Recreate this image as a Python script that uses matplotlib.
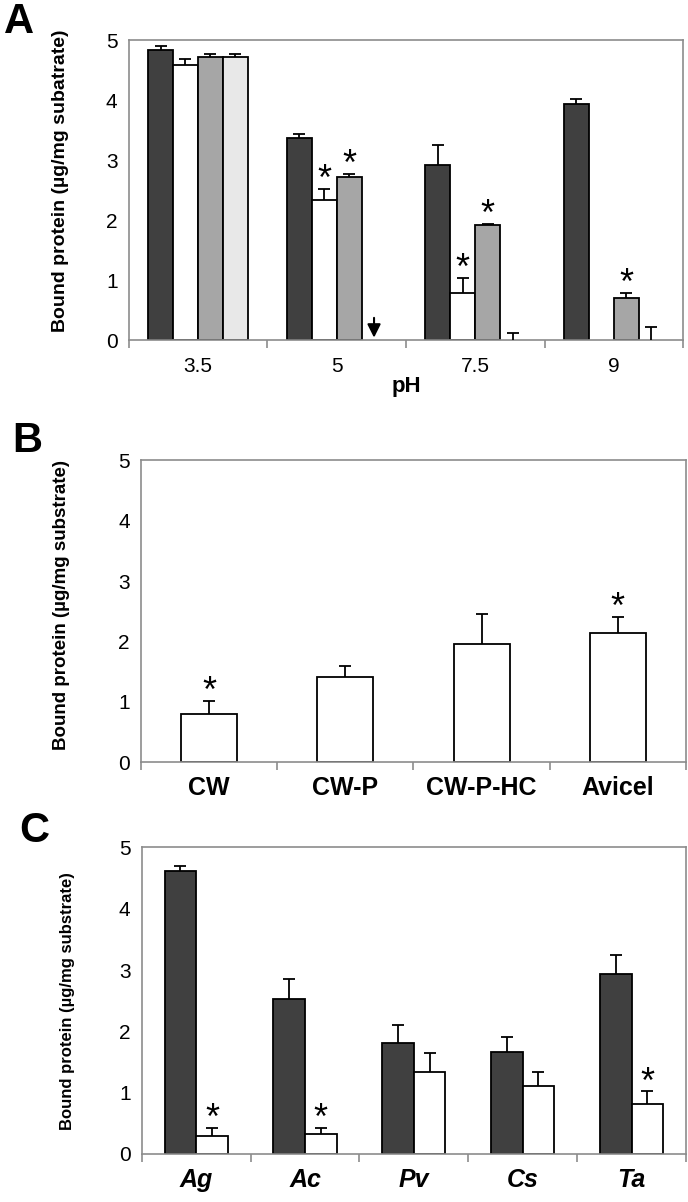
import numpy as np
import matplotlib.pyplot as plt

# Panel A: binding at different pH
ph_labels = ['3.5', '5', '7.5', '9']
a_dark = [4.83, 3.36, 2.92, 3.93]
a_dark_err = [0.07, 0.08, 0.33, 0.08]
a_white = [4.59, 2.33, 0.79, 0.0]
a_white_err = [0.09, 0.19, 0.25, np.nan]
a_gray = [4.72, 2.72, 1.91, 0.70]
a_gray_err = [0.05, 0.05, 0.03, 0.09]
a_light = [4.71, 0.0, 0.0, 0.0]
a_light_err = [0.06, np.nan, 0.12, 0.22]
a_white_star = [False, True, True, False]
a_gray_star = [False, True, True, True]

# Panel B: substrates
b_labels = ['CW', 'CW-P', 'CW-P-HC', 'Avicel']
b_vals = [0.80, 1.41, 1.96, 2.14]
b_err = [0.22, 0.18, 0.49, 0.27]
b_star = [True, False, False, True]

# Panel C: species
c_labels = ['Ag', 'Ac', 'Pv', 'Cs', 'Ta']
c_dark = [4.61, 2.52, 1.81, 1.67, 2.93]
c_dark_err = [0.08, 0.33, 0.30, 0.24, 0.31]
c_white = [0.30, 0.33, 1.33, 1.10, 0.81]
c_white_err = [0.13, 0.09, 0.31, 0.24, 0.21]
c_white_star = [True, True, False, False, True]

DARK = '#404040'
GRAY = '#a6a6a6'
LIGHT = '#e8e8e8'
SPINE = '#8c8c8c'
SANS = ['Liberation Sans', 'DejaVu Sans']


def draw_bars(ax, x, vals, errs, color, width, stars=None, capsize=4.5):
    vals = np.array(vals, dtype=float)
    errs = np.array(errs, dtype=float)
    h = np.where(vals > 0, vals, np.nan)
    ax.bar(x, h, width, color=color, edgecolor='black', linewidth=1.3, zorder=2)
    # one-sided (upper) error bars
    ax.vlines(x, vals, vals + errs, color='black', lw=1.3, zorder=3)
    ax.plot(x, vals + errs, ls='none', marker='_', ms=2 * capsize, mew=1.3,
            color='black', zorder=3)
    if stars is not None:
        for xi, v, e, s in zip(x, vals, errs, stars):
            if s:
                ax.annotate('*', xy=(xi, v + e), xytext=(0, 6),
                            textcoords='offset points', ha='center',
                            va='center', fontsize=26, family=SANS)


def style_axes(ax, n, labels, label_font, pad=10):
    ax.set_xlim(-0.5, n - 0.5)
    ax.set_ylim(0, 5)
    ax.set_yticks(range(6))
    for sp in ax.spines.values():
        sp.set_color(SPINE)
        sp.set_linewidth(1.2)
    ax.set_xticks(range(n))
    ax.set_xticklabels(labels, **label_font)
    ax.set_xticks(np.arange(-0.5, n, 1.0), minor=True)
    ax.tick_params(axis='x', which='major', length=0, pad=pad)
    ax.tick_params(axis='x', which='minor', length=6, color=SPINE,
                   width=1.2, direction='out')
    ax.tick_params(axis='y', length=0, pad=8)
    for t in ax.get_yticklabels():
        t.set_family(SANS)
        t.set_fontsize(15)


fig = plt.figure(figsize=(6.88, 12.02), dpi=100)

# ---- A ----
axA = fig.add_axes([0.187, 0.7171, 0.806, 0.2496])
x = np.arange(4)
w = 0.18
draw_bars(axA, x - 1.5 * w, a_dark, a_dark_err, DARK, w)
draw_bars(axA, x - 0.5 * w, a_white, a_white_err, 'white', w, a_white_star)
draw_bars(axA, x + 0.5 * w, a_gray, a_gray_err, GRAY, w, a_gray_star)
draw_bars(axA, x + 1.5 * w, a_light, a_light_err, LIGHT, w)
axA.annotate('', xy=(1 + 1.5 * w, 0.04), xytext=(1 + 1.5 * w, 0.37),
             arrowprops=dict(arrowstyle='-|>,head_length=0.8,head_width=0.4',
                             color='black', lw=1.5, mutation_scale=10,
                             shrinkA=0, shrinkB=0),
             zorder=4)
style_axes(axA, 4, ph_labels, dict(family=SANS, fontsize=15), pad=12)
axA.set_xlabel('pH', family=SANS, fontsize=16, fontweight='bold', labelpad=0)
axA.set_ylabel('Bound protein (\u00b5g/mg subatrate)', family=SANS,
               fontsize=14, fontweight='bold')
axA.yaxis.set_label_coords(-0.108, 0.53)

# ---- B ----
axB = fig.add_axes([0.205, 0.366, 0.792, 0.251])
x = np.arange(4)
draw_bars(axB, x, b_vals, b_err, 'white', 0.41, b_star, capsize=4)
style_axes(axB, 4, b_labels, dict(family=SANS, fontsize=18, fontweight='bold'))
axB.set_ylabel('Bound protein (\u00b5g/mg substrate)', family=SANS,
               fontsize=13.5, fontweight='bold')
axB.yaxis.set_label_coords(-0.13, 0.52)

# ---- C ----
axC = fig.add_axes([0.206, 0.040, 0.791, 0.255])
x = np.arange(5)
w = 0.29
draw_bars(axC, x - 0.5 * w, c_dark, c_dark_err, DARK, w, capsize=4.5)
draw_bars(axC, x + 0.5 * w, c_white, c_white_err, 'white', w, c_white_star,
          capsize=4.5)
style_axes(axC, 5, c_labels, dict(family=SANS, fontsize=18,
                                  fontweight='bold', style='italic'))
axC.set_ylabel('Bound protein (\u00b5g/mg substrate)', family=SANS,
               fontsize=12, fontweight='bold')
axC.yaxis.set_label_coords(-0.123, 0.5)

for lab, yy, xx in [('A', 0.998, 0.006), ('B', 0.650, 0.018), ('C', 0.325, 0.028)]:
    fig.text(xx, yy, lab, fontsize=30, fontweight='bold', family=SANS, va='top')

fig.savefig('out.png', dpi=100)
